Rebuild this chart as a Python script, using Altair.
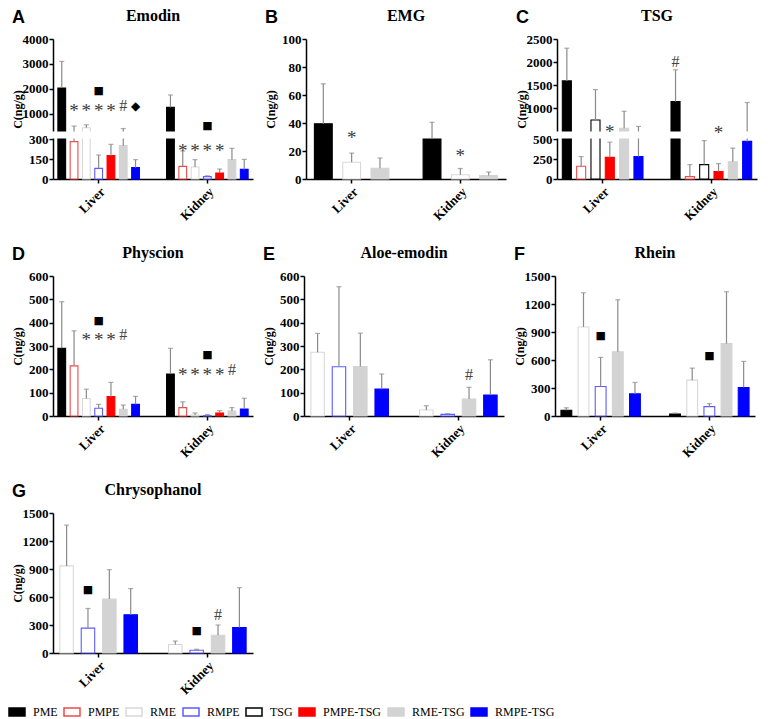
import altair as alt
import pandas as pd

TISSUES = ["Liver", "Kidney"]
GROUPS = ["PME", "PMPE", "RME", "RMPE", "TSG", "PMPE-TSG", "RME-TSG", "RMPE-TSG"]
FILLS = ["#000000", "#ffffff", "#ffffff", "#ffffff", "#ffffff", "#ff0000", "#d3d3d3", "#0000ff"]
STROKES = ["#000000", "#f04a4a", "#d9d9d9", "#5c5cff", "#000000", "#ff0000", "#d3d3d3", "#0000ff"]

# A  Emodin (broken axis 0-300 | 300-4000)
emodin_groups = ["PME", "PMPE", "RME", "RMPE", "PMPE-TSG", "RME-TSG", "RMPE-TSG"]
emodin_liver_mean = [2030, 280, 430, 80, 175, 250, 85]
emodin_liver_sd = [1070, 220, 120, 100, 85, 150, 60]
emodin_kidney_mean = [1250, 95, 90, 18, 45, 145, 72]
emodin_kidney_sd = [500, 115, 55, 6, 30, 85, 75]
emodin_domain = [0, 300, 301, 4000]
emodin_ticks = [0, 150, 300, 1000, 2000, 3000, 4000]
emodin_ann = [("Liver", "PMPE", "*", 1300), ("Liver", "RME", "*", 1300), ("Liver", "RMPE", "*", 1300),
              ("Liver", "PMPE-TSG", "*", 1300), ("Liver", "RME-TSG", "#", 1300), ("Liver", "RMPE-TSG", "◆", 1300),
              ("Liver", "RMPE", "■", 1900), ("Kidney", "PMPE", "*", 250), ("Kidney", "RME", "*", 250),
              ("Kidney", "RMPE", "*", 250), ("Kidney", "PMPE-TSG", "*", 250), ("Kidney", "RMPE", "■", 520)]

# B  EMG
emg_groups = ["PME", "RME", "RME-TSG"]
emg_liver_mean = [39.5, 12, 7.7]
emg_liver_sd = [28.5, 6.5, 7.3]
emg_kidney_mean = [28.5, 3, 2.5]
emg_kidney_sd = [12, 4.5, 2.5]
emg_domain = [0, 100]
emg_ticks = [0, 20, 40, 60, 80, 100]
emg_ann = [("Liver", "RME", "*", 33), ("Kidney", "RME", "*", 20)]

# C  TSG (broken axis 0-500 | 500-2500)
tsg_groups = ["PME", "PMPE", "TSG", "PMPE-TSG", "RME-TSG", "RMPE-TSG"]
tsg_liver_mean = [1590, 160, 740, 270, 560, 280]
tsg_liver_sd = [710, 120, 660, 190, 370, 320]
tsg_kidney_mean = [1140, 30, 180, 92, 216, 470]
tsg_kidney_sd = [690, 150, 300, 100, 170, 650]
tsg_domain = [0, 500, 501, 2500]
tsg_ticks = [0, 250, 500, 1000, 1500, 2000, 2500]
tsg_ann = [("Liver", "PMPE-TSG", "*", 590), ("Kidney", "PMPE-TSG", "*", 560), ("Kidney", "PME", "#", 2000)]

# D  Physcion
phy_groups = ["PME", "PMPE", "RME", "RMPE", "PMPE-TSG", "RME-TSG", "RMPE-TSG"]
phy_liver_mean = [290, 215, 75, 33, 83, 29, 50]
phy_liver_sd = [200, 150, 40, 17, 61, 18, 34]
phy_kidney_mean = [180, 36, 4, 1.5, 13, 21, 30]
phy_kidney_sd = [110, 25, 9, 4.5, 10, 15, 46]
phy_domain = [0, 600]
phy_ticks = [0, 100, 200, 300, 400, 500, 600]
phy_ann = [("Liver", "RMPE", "■", 407), ("Liver", "RME", "*", 347), ("Liver", "RMPE", "*", 347),
           ("Liver", "PMPE-TSG", "*", 347), ("Liver", "RME-TSG", "#", 347),
           ("Kidney", "RMPE", "■", 261), ("Kidney", "PMPE", "*", 196), ("Kidney", "RME", "*", 196),
           ("Kidney", "RMPE", "*", 196), ("Kidney", "PMPE-TSG", "*", 196), ("Kidney", "RME-TSG", "#", 196)]

# E  Aloe-emodin
aloe_groups = ["RME", "RMPE", "RME-TSG", "RMPE-TSG"]
aloe_liver_mean = [273, 211, 212, 115]
aloe_liver_sd = [81, 343, 143, 65]
aloe_kidney_mean = [26, 7, 73, 90]
aloe_kidney_sd = [18, 3, 50, 151]
aloe_domain = [0, 600]
aloe_ticks = [0, 100, 200, 300, 400, 500, 600]
aloe_ann = [("Kidney", "RME-TSG", "#", 175)]

# F  Rhein
rhein_groups = ["PME", "RME", "RMPE", "RME-TSG", "RMPE-TSG"]
rhein_liver_mean = [62, 954, 316, 689, 237]
rhein_liver_sd = [26, 366, 312, 556, 122]
rhein_kidney_mean = [22, 384, 100, 775, 305]
rhein_kidney_sd = [9, 129, 33, 556, 280]
rhein_domain = [0, 1500]
rhein_ticks = [0, 300, 600, 900, 1200, 1500]
rhein_ann = [("Liver", "RMPE", "■", 854), ("Kidney", "RMPE", "■", 646)]

# G  Chrysophanol
chry_groups = ["RME", "RMPE", "RME-TSG", "RMPE-TSG"]
chry_liver_mean = [933, 267, 578, 410]
chry_liver_sd = [437, 210, 315, 280]
chry_kidney_mean = [91, 29, 190, 274]
chry_kidney_sd = [37, 11, 110, 426]
chry_domain = [0, 1500]
chry_ticks = [0, 300, 600, 900, 1200, 1500]
chry_ann = [("Liver", "RMPE", "■", 673), ("Kidney", "RMPE", "■", 238), ("Kidney", "RME-TSG", "#", 402)]

W, H = 200, 140
ERR = "#8a8a8a"
SERIF = "'Liberation Serif', 'Times New Roman', Times, serif"
SANS = "'Liberation Sans', Arial, sans-serif"

fill_scale = alt.Scale(domain=GROUPS, range=FILLS)
stroke_scale = alt.Scale(domain=GROUPS, range=STROKES)
LEG = alt.Legend(title=None, orient="none", legendX=-45, legendY=190, direction="horizontal",
                 columns=8, symbolType="M-1,-0.5H1V0.5H-1Z", symbolSize=256, symbolStrokeWidth=1.5,
                 labelFont=SERIF, labelFontSize=12, labelColor="black", labelOffset=7,
                 columnPadding=3, labelLimit=0)

SYMS = {"*": dict(fontSize=19, color="#3a3a3a", dy=5, font=SERIF),
        "#": dict(fontSize=16, color="#444444", dy=0, font=SERIF),
        "■": dict(fontSize=11, color="black", dy=0, font="DejaVu Sans"),
        "◆": dict(fontSize=12, color="black", dy=0, font="DejaVu Sans")}


def make_df(groups, lm, ls, km, ks):
    rows = []
    for t, means, sds in (("Liver", lm, ls), ("Kidney", km, ks)):
        for g, m, s in zip(groups, means, sds):
            rows.append({"tissue": t, "group": g, "mean": m, "top": m + s})
    return pd.DataFrame(rows)


def panel(letter, title, groups, df, ann, domain, ticks, legend=None):
    if len(domain) == 4:
        yscale = alt.Scale(domain=domain, range=[H, H - 40, H - 48, 0], nice=False, zero=False)
    else:
        yscale = alt.Scale(domain=domain, nice=False, zero=False)
    yaxis = alt.Axis(values=ticks, format="d", minExtent=29, maxExtent=29, titlePadding=0, labelPadding=1)

    def ye(field):
        return alt.Y(field, type="quantitative", scale=yscale, axis=yaxis, title="C(ng/g)")

    xaxis = alt.Axis(labelAngle=-45, labelPadding=2, title=None)
    xe = alt.X("tissue:N", scale=alt.Scale(domain=TISSUES, paddingInner=0.2, paddingOuter=0.02),
               axis=xaxis, title=None)
    xo = alt.XOffset("group:N", scale=alt.Scale(domain=groups, paddingInner=0.37, paddingOuter=0.22))

    base = alt.Chart(df)
    bars = base.mark_bar(strokeWidth=1.1).encode(
        x=xe, xOffset=xo, y=ye("mean"),
        fill=alt.Fill("group:N", scale=fill_scale, legend=legend),
        stroke=alt.Stroke("group:N", scale=stroke_scale, legend=legend))
    err = base.mark_rule(color=ERR, strokeWidth=1.2).encode(x=xe, xOffset=xo, y=ye("mean"), y2="top:Q")
    cap = base.mark_tick(color=ERR, size=5, thickness=1.2).encode(x=xe, xOffset=xo, y=ye("top"))
    layers = [bars, err, cap]
    if len(domain) == 4:
        lo = domain[1] + 0.06
        hi = domain[2] - 0.06
        gap = alt.Chart(pd.DataFrame({"k": [0]})).mark_rect(color="white").encode(
            x=alt.value(-6), x2=alt.value(W + 2),
            y=alt.Y(datum=lo, type="quantitative", scale=yscale, axis=yaxis, title="C(ng/g)"),
            y2=alt.Y2(datum=hi))
        layers.append(gap)
    adf = pd.DataFrame(ann, columns=["tissue", "group", "sym", "yv"])
    for sym, st in SYMS.items():
        sub = adf[adf["sym"] == sym]
        if len(sub):
            layers.append(alt.Chart(sub).mark_text(baseline="middle", align="center", **st).encode(
                x=xe, xOffset=xo, y=ye("yv"), text="sym:N"))
    head = alt.Chart(pd.DataFrame({"t": [letter], "name": [title]}))
    lab = head.mark_text(
        align="left", baseline="top", font=SANS, fontSize=18, fontWeight="bold",
        color="black").encode(text="t:N", x=alt.value(-41), y=alt.value(-30))
    ttl = head.mark_text(
        align="center", baseline="middle", font=SERIF, fontSize=16, fontWeight="bold",
        color="black").encode(text="name:N", x=alt.value(W / 2), y=alt.value(-23))
    layers += [lab, ttl]
    return alt.layer(*layers).properties(width=W, height=H)


A = panel("A", "Emodin", emodin_groups,
          make_df(emodin_groups, emodin_liver_mean, emodin_liver_sd, emodin_kidney_mean, emodin_kidney_sd),
          emodin_ann, emodin_domain, emodin_ticks)
B = panel("B", "EMG", emg_groups,
          make_df(emg_groups, emg_liver_mean, emg_liver_sd, emg_kidney_mean, emg_kidney_sd),
          emg_ann, emg_domain, emg_ticks)
C = panel("C", "TSG", tsg_groups,
          make_df(tsg_groups, tsg_liver_mean, tsg_liver_sd, tsg_kidney_mean, tsg_kidney_sd),
          tsg_ann, tsg_domain, tsg_ticks)
D = panel("D", "Physcion", phy_groups,
          make_df(phy_groups, phy_liver_mean, phy_liver_sd, phy_kidney_mean, phy_kidney_sd),
          phy_ann, phy_domain, phy_ticks)
E = panel("E", "Aloe-emodin", aloe_groups,
          make_df(aloe_groups, aloe_liver_mean, aloe_liver_sd, aloe_kidney_mean, aloe_kidney_sd),
          aloe_ann, aloe_domain, aloe_ticks)
F = panel("F", "Rhein", rhein_groups,
          make_df(rhein_groups, rhein_liver_mean, rhein_liver_sd, rhein_kidney_mean, rhein_kidney_sd),
          rhein_ann, rhein_domain, rhein_ticks)
G = panel("G", "Chrysophanol", chry_groups,
          make_df(chry_groups, chry_liver_mean, chry_liver_sd, chry_kidney_mean, chry_kidney_sd),
          chry_ann, chry_domain, chry_ticks, legend=LEG)

RES = dict(x="independent", y="independent", xOffset="independent", fill="independent", stroke="independent")
LRES = dict(fill="independent", stroke="independent")
row1 = alt.hconcat(A, B, C, spacing=9).resolve_scale(**RES).resolve_legend(**LRES)
row2 = alt.hconcat(D, E, F, spacing=9).resolve_scale(**RES).resolve_legend(**LRES)
row3 = alt.hconcat(G, spacing=9).resolve_scale(**RES).resolve_legend(**LRES)

chart = alt.vconcat(row1, row2, row3, spacing=22).resolve_scale(**RES).resolve_legend(**LRES).properties(
    padding=0
).configure_view(stroke=None).configure_axis(
    domainColor="black", domainWidth=1.5, tickColor="black", tickWidth=1.5, tickSize=4,
    labelFont=SERIF, labelFontWeight="bold", labelFontSize=13, labelColor="black",
    titleFont=SERIF, titleFontWeight="bold", titleFontSize=12, titleColor="black", grid=False
)

chart.save("out.html", embed_options={"renderer": "svg", "actions": False})
